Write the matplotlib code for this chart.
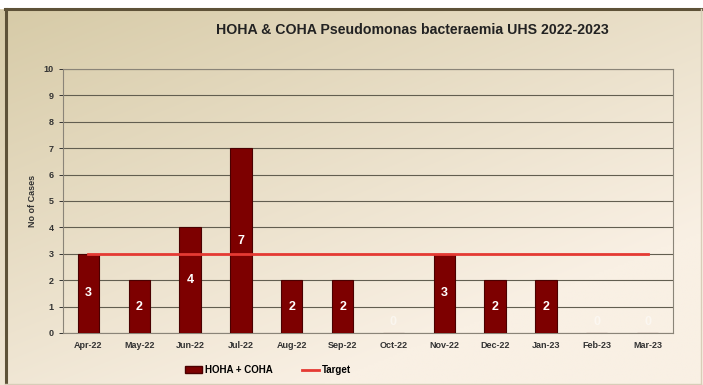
import numpy as np
import matplotlib
matplotlib.use("Agg")
import matplotlib.pyplot as plt
from matplotlib.lines import Line2D
from matplotlib.patches import Patch

months = ["Apr-22", "May-22", "Jun-22", "Jul-22", "Aug-22", "Sep-22",
          "Oct-22", "Nov-22", "Dec-22", "Jan-23", "Feb-23", "Mar-23"]
cases = [3, 2, 4, 7, 2, 2, 0, 3, 2, 2, 0, 0]
target = [3] * 12
y_ticks = list(range(0, 11))

plt.rcParams["font.family"] = ["Liberation Sans", "DejaVu Sans"]

W, H = 703, 385
fig = plt.figure(figsize=(W / 100, H / 100), dpi=100)

# beige background gradient behind everything
bg = fig.add_axes([0, 0, 1, 1], zorder=-10)
yy, xx = np.mgrid[0:1:200j, 0:1:360j]
t = np.clip(0.55 * xx + 0.75 * yy, 0, 1)
dark = np.array([214, 202, 166]) / 255
light = np.array([249, 240, 228]) / 255
img = dark[None, None, :] * (1 - t[..., None]) + light[None, None, :] * t[..., None]
bg.imshow(img, extent=[0, W, H, 0], aspect="auto", interpolation="bilinear")
bg.fill_between([0, W], 0, 8, color="white", zorder=2)
bg.plot([5, 701], [9, 9], color="#5e5238", lw=2.2, zorder=3)
bg.plot([6, 6], [9, 384], color="#5e5238", lw=2.2, zorder=3)
bg.plot([701, 701], [9, 384], color="#d8cdb8", lw=1, zorder=3)
bg.plot([5, 701], [383.5, 383.5], color="#d8cdb8", lw=1, zorder=3)
bg.set_xlim(0, W)
bg.set_ylim(H, 0)
bg.axis("off")

ax = fig.add_axes([63 / W, 1 - 333 / H, 610 / W, 264 / H])
ax.patch.set_alpha(0)
x = np.arange(len(months))
ax.bar(x, cases, width=0.42, color="#7d0000", edgecolor="#4a0000",
       linewidth=0.8, zorder=3)
ax.plot(x, target, color="#e53a33", lw=2.0, zorder=4)

for xi, v in zip(x, cases):
    ax.text(xi, v / 2 if v else 0.4, str(v), ha="center", va="center",
            color="white", fontsize=9, fontweight="bold", zorder=5,
            alpha=1.0 if v else 0.5)

ax.set_xlim(-0.5, 11.5)
ax.set_ylim(0, 10)
ax.set_yticks(y_ticks)
ax.set_xticks(x)
ax.set_xticklabels(months)
ax.tick_params(axis="both", labelsize=6.5, colors="#333333", length=3,
               width=0.7)
for lab in ax.get_xticklabels() + ax.get_yticklabels():
    lab.set_fontweight("bold")
ax.tick_params(axis="x", length=0, pad=6)
ax.grid(axis="y", color="#625e50", lw=0.8, zorder=1)
for s in ax.spines.values():
    s.set_color("#8a8478")
    s.set_linewidth(0.8)
ax.set_ylabel("No of Cases", fontsize=6.5, fontweight="bold", color="#333333",
              labelpad=5)

fig.text(412 / W, 1 - 30 / H, "HOHA & COHA Pseudomonas bacteraemia UHS 2022-2023",
         ha="center", va="center", fontsize=10.2, fontweight="bold", color="#222222")

handles = [Patch(facecolor="#7d0000", edgecolor="#4a0000"),
           Line2D([0], [0], color="#e53a33", lw=2)]
fig.legend(handles, ["HOHA + COHA", "Target"], loc="center",
           bbox_to_anchor=(268 / W, 1 - 370 / H), ncol=2, frameon=False,
           prop={"size": 7, "weight": "bold"}, handlelength=1.8,
           handleheight=0.7, columnspacing=3, handletextpad=0.3)

fig.savefig("out.png", dpi=100)
